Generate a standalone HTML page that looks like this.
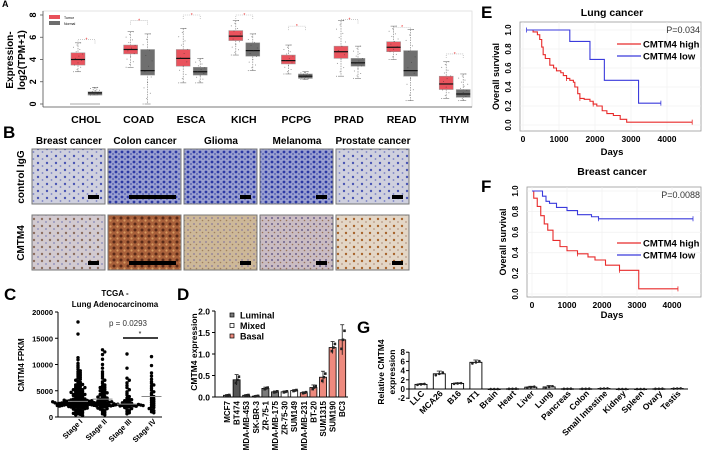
<!DOCTYPE html>
<html><head><meta charset="utf-8"><style>
html,body{margin:0;padding:0;background:#fff;width:705px;height:460px;overflow:hidden}
svg{display:block;font-family:"Liberation Sans",Arial,sans-serif}
.b{font-weight:bold}
</style></head><body>
<svg id="fig" width="705" height="460" viewBox="0 0 705 460" xmlns="http://www.w3.org/2000/svg">
<defs>
<pattern id="pBlue" width="9" height="7" patternUnits="userSpaceOnUse"><rect width="9" height="7" fill="#cfd0de"/><circle cx="2" cy="2" r="1.2" fill="#4a56b4"/><circle cx="6.5" cy="5" r="0.9" fill="#7880c4"/></pattern>
<pattern id="pBlueD" width="6" height="5" patternUnits="userSpaceOnUse"><rect width="6" height="5" fill="#9aa0d0"/><circle cx="2" cy="2" r="1.4" fill="#2c39a4"/><circle cx="5" cy="4" r="0.9" fill="#4450b0"/></pattern>
<pattern id="pBr" width="8" height="7" patternUnits="userSpaceOnUse"><rect width="8" height="7" fill="#d2cad0"/><circle cx="2" cy="2" r="1.2" fill="#8c6e60"/><circle cx="6" cy="5" r="0.9" fill="#8486b8"/></pattern>
<pattern id="pCol" width="7" height="6" patternUnits="userSpaceOnUse"><rect width="7" height="6" fill="#a8603a"/><circle cx="2" cy="2" r="1.5" fill="#5a2a18"/><circle cx="5.5" cy="4.5" r="1.1" fill="#d79a60"/></pattern>
<pattern id="pGli" width="6" height="6" patternUnits="userSpaceOnUse"><rect width="6" height="6" fill="#cdb898"/><circle cx="2" cy="2" r="0.9" fill="#8a7a9a"/><circle cx="4.5" cy="4.5" r="0.8" fill="#a08060"/></pattern>
<pattern id="pMel" width="6" height="6" patternUnits="userSpaceOnUse"><rect width="6" height="6" fill="#cabcc2"/><circle cx="2" cy="2" r="1" fill="#6c5f8c"/><circle cx="4.5" cy="4.5" r="0.8" fill="#97735c"/></pattern>
<pattern id="pPro" width="8" height="7" patternUnits="userSpaceOnUse"><rect width="8" height="7" fill="#e3d6c6"/><circle cx="2" cy="2" r="1.2" fill="#a8642c"/><circle cx="6" cy="5" r="0.9" fill="#b99884"/></pattern>
</defs>

<text x="2" y="7" class="b" font-size="9">A</text>
<text x="3" y="138" class="b" font-size="17">B</text>
<text x="4" y="300" class="b" font-size="17">C</text>
<text x="177" y="300" class="b" font-size="17">D</text>
<text x="357" y="333" class="b" font-size="17">G</text>
<text x="481" y="18" class="b" font-size="17">E</text>
<text x="481" y="192" class="b" font-size="17">F</text>

<g id="panelA"></g>
<g id="panelB"></g>
<g id="panelC"></g>
<g id="panelD"></g>
<g id="panelG"></g>
<g id="panelE"></g>
<g id="panelF"></g>
</svg>
<script>
const aCats=["CHOL","COAD","ESCA","KICH","PCPG","PRAD","READ","THYM"];
const aTumorQ1=[3.5,4.5,3.4,5.7,3.6,4.1,4.7,1.3];
const aTumorMed=[4.0,4.9,4.1,6.1,3.9,4.7,5.1,1.8];
const aTumorQ3=[4.6,5.3,4.9,6.6,4.4,5.2,5.6,2.5];
const aTumorLo=[2.9,3.3,1.9,4.4,2.7,2.5,4.0,0.5];
const aTumorHi=[5.5,6.5,6.8,7.5,5.3,7.5,7.0,3.8];
const aNormQ1=[0.8,2.6,2.6,4.3,2.3,3.4,2.5,0.6];
const aNormMed=[1.0,3.0,2.9,4.8,2.5,3.7,3.0,0.9];
const aNormQ3=[1.1,4.9,3.3,5.5,2.7,4.1,4.8,1.3];
const aNormLo=[0.8,0.0,1.9,3.0,2.2,2.3,0.3,0.3];
const aNormHi=[1.5,6.3,4.1,6.3,2.9,5.2,6.7,2.7];
const aSig=[5.8,7.5,8.0,8.0,7.0,7.6,6.9,4.5];
const aTicks=[0,2,4,6,8];

const cCats=["Stage I","Stage II","Stage III","Stage IV"];
const cStage1=[18100,15800,11300,10900,10200,9800,9500,9100,8800,8600,8400,8200,8000,7800,7600,7400,7200,7000,6800,6600,6500,6300,6100,6000,5800,5700,5500,5400,5300,5200,5100,5000,4900,4800,4700,4600,4500,4400,4300,4200,4100,4000,3900,3800,3700,3600,3500,3400,3300,3200,3100,3000,2950,2900,2850,2800,2750,2700,2650,2600,2550,2500,2450,2400,2350,2300,2250,2200,2150,2100,2050,2000,1950,1900,1800,1700,1600,1500,1400,1300,1200,1100,1000,900,800,700,600,500,400,300,3450,3350,3250,3150,3050,2980,2920,2880,2820,2780,2720,2680,2620,2580,2520,2480,2420,2380,2320,2280,2220,2180,2120,2080,2600,2700,2500,2400,3000,2900,3100,3200,4100,4300,4700,5200,5600,6200,1900,1700,1500,2000,2200];
const cStage2=[12800,12400,11900,11000,10000,9300,8600,8200,7800,7400,7000,6700,6400,6100,5900,5700,5500,5300,5100,4900,4700,4500,4300,4100,3900,3700,3500,3300,3100,3000,2900,2800,2700,2600,2500,2400,2300,2200,2100,2000,1900,1800,1600,1400,1200,1000,800,600,400,3400,3200,3000,2800,2600,2400,2200,3600,3800,4200,4600,5000,5600,2900,2700,2500,2300,1700,1500];
const cStage3=[12000,9300,7400,7000,6500,6000,5600,5200,4800,4500,4200,3900,3600,3400,3200,3000,2800,2600,2500,2400,2350,2300,2250,2200,2150,2100,2050,2000,1900,1800,1600,1400,1200,1000,800,600,2450,2380,2320,2280,2220,2180,2120,2600,2700,3100,3300];
const cStage4=[11500,9800,8400,7800,7200,6700,6400,6100,5900,5500,5100,4800,4500,4200,3900,3600,3400,3200,3000,2800,2600,2400,2200,2000,1800,1600,1400,1200,1000,800];
const cTicks=[0,5000,10000,15000,20000];

const dCats=["MCF7","BT474","MDA-MB-453","SK-BR-3","ZR-75-1","MDA-MB-175","ZR-75-30","SUM149","MDA-MB-231","BT-20","SUM1315","SUM190","BC3"];
const dVals=[0.04,0.40,0.04,0.02,0.20,0.12,0.12,0.15,0.10,0.22,0.46,1.15,1.33];
const dErr=[0.01,0.12,0.01,0.01,0.03,0.02,0.02,0.02,0.02,0.06,0.14,0.14,0.35];
const dType=["L","L","L","L","L","L","M","M","B","B","B","B","B"];
const dTicks=[0,0.5,1.0,1.5,2.0];

const gCats=["LLC","MCA26","B16","4T1","Brain","Heart","Liver","Lung","Pancreas","Colon","Small Intestine","Kidney","Spleen","Ovary","Testis"];
const gVals=[1.0,3.3,1.2,5.8,0.0,0.05,0.4,0.45,0.05,0.05,0.1,0.0,0.0,0.05,0.1];
const gErr=[0.2,0.6,0.15,0.5,0,0.02,0.2,0.3,0.02,0.02,0.05,0,0,0.02,0.05];
const gTicks=[-2,0,2,4,6,8];

const eHighT=[140,280,400,465,520,560,620,745,850,930,1050,1120,1210,1300,1400,1440,1520,1580,1700,1860,1950,2050,2200,2330,2510,2700,2880,4700];
const eHighS=[1.0,0.98,0.95,0.9,0.82,0.74,0.7,0.63,0.6,0.57,0.55,0.52,0.49,0.47,0.45,0.4,0.33,0.28,0.27,0.25,0.22,0.2,0.15,0.12,0.1,0.06,0.03,0.03];
const eLowT=[100,1300,1860,2260,3210,3830];
const eLowS=[1.0,0.88,0.69,0.47,0.23,0.23];
const eTicks=[0,1000,2000,3000,4000];
const survTicks=[0,0.2,0.4,0.6,0.8,1.0];

const fHighT=[0,50,150,250,350,450,600,800,1000,1300,1600,1800,2100,2500,3000,3050,4170];
const fHighS=[1.0,0.93,0.85,0.76,0.68,0.62,0.52,0.46,0.42,0.39,0.36,0.33,0.28,0.23,0.23,0.05,0.05];
const fLowT=[0,300,400,500,700,1000,1300,1500,1700,1900,4600];
const fLowS=[1.0,0.95,0.9,0.88,0.84,0.81,0.77,0.77,0.75,0.73,0.73];
const fTicks=[0,1000,2000,3000,4000];

const NS="http://www.w3.org/2000/svg";
function mk(parent,tag,attrs,txt){const e=document.createElementNS(NS,tag);for(const k in attrs)e.setAttribute(k,attrs[k]);if(txt!==undefined)e.textContent=txt;parent.appendChild(e);return e;}

(function(){
const g=document.getElementById('panelA');
const y=v=>104-v*11.125;
const cx=i=>86+i*52.6;
let fr=mk(g,'rect',{x:43,y:11,width:429,height:96,fill:'none',stroke:'#ddd','stroke-width':0.8});


mk(g,'line',{x1:43,y1:11,x2:43,y2:107,stroke:'#555','stroke-width':0.8});
mk(g,'line',{x1:43,y1:107,x2:472,y2:107,stroke:'#555','stroke-width':0.8});
aTicks.forEach(t=>{
  mk(g,'line',{x1:40,x2:43,y1:y(t),y2:y(t),stroke:'#555','stroke-width':0.8});
  let tx=mk(g,'text',{x:0,y:0,'font-size':9,'text-anchor':'middle',transform:`translate(36 ${y(t)}) rotate(-90)`,class:'b'},String(t));
  
  
});
let yl=mk(g,'text',{x:0,y:0,'font-size':10,'text-anchor':'middle',class:'b',transform:'translate(13 60) rotate(-90)'},'Expression-');


mk(g,'text',{x:0,y:0,'font-size':10,'text-anchor':'middle',class:'b',transform:'translate(25 60) rotate(-90)'},'log2(TPM+1)');
let l1=mk(g,'rect',{x:49,y:15,width:11,height:4,fill:'#e8505a'});


mk(g,'text',{x:64,y:19,'font-size':3.5},'Tumor');
let l2=mk(g,'rect',{x:49,y:21,width:11,height:4,fill:'#6d6d6d'});


mk(g,'text',{x:64,y:25,'font-size':3.5},'Normal');
aCats.forEach((c,i)=>{
  const xt=cx(i)-8, xn=cx(i)+9;
  function box(x,q1,md,q3,lo,hi,col,nm){
    mk(g,'line',{x1:x,x2:x,y1:y(hi),y2:y(lo),stroke:'#777','stroke-width':0.6,'stroke-dasharray':'1.5 1'});
    mk(g,'line',{x1:x-3,x2:x+3,y1:y(hi),y2:y(hi),stroke:'#777','stroke-width':0.6});
    mk(g,'line',{x1:x-3,x2:x+3,y1:y(lo),y2:y(lo),stroke:'#777','stroke-width':0.6});
    let r=mk(g,'rect',{x:x-7,y:y(q3),width:14,height:Math.max(1,y(q1)-y(q3)),fill:col,stroke:'#999','stroke-width':0.5});
    
    
    mk(g,'line',{x1:x-7,x2:x+7,y1:y(md),y2:y(md),stroke:'#111','stroke-width':1.2});
    for(let k=0;k<14;k++){const fr2=k/13;const v=lo+(hi-lo)*fr2;const dx=((k*37)%11-5)*0.9;
      mk(g,'circle',{cx:x+dx,cy:y(v),r:0.5,fill:'#333',opacity:0.6});}
  }
  box(xt,aTumorQ1[i],aTumorMed[i],aTumorQ3[i],aTumorLo[i],aTumorHi[i],'#e9535d','box-tumor-'+c.toLowerCase());
  box(xn,aNormQ1[i],aNormMed[i],aNormQ3[i],aNormLo[i],aNormHi[i],'#6f6f6f','box-normal-'+c.toLowerCase());
  const sy=y(aSig[i]);
  mk(g,'path',{d:`M${xt} ${sy+4}V${sy}H${xn}V${sy+4}`,fill:'none',stroke:'#aaa','stroke-width':0.6,'stroke-dasharray':'1 1'});
  mk(g,'text',{x:(xt+xn)/2,y:sy+2,'font-size':5,fill:'#e33','text-anchor':'middle'},'*');
  let lb=mk(g,'text',{x:cx(i),y:123,'font-size':10.5,'text-anchor':'middle',class:'b'},c);
  
  
});
mk(g,'line',{x1:70,x2:100,y1:y(0),y2:y(0),stroke:'#aaa','stroke-width':1});
})();

(function(){
const g=document.getElementById('panelB');
const heads=["Breast cancer","Colon cancer","Glioma","Melanoma","Prostate cancer"];
const xs=[32,108,184,260,336];
const r1=["url(#pBlue)","url(#pBlueD)","url(#pBlueD)","url(#pBlueD)","url(#pBlue)"];
const r2=["url(#pBr)","url(#pCol)","url(#pGli)","url(#pMel)","url(#pPro)"];
heads.forEach((h,i)=>{
  let t=mk(g,'text',{x:xs[i]+37,y:144,'font-size':10,'text-anchor':'middle',class:'b'},h);
  
  
  [[149,r1[i]],[215,r2[i]]].forEach(([yy,f],j)=>{
    let r=mk(g,'rect',{x:xs[i],y:yy,width:73,height:55,fill:f,stroke:'#777','stroke-width':1});
    
    
    const wide=i===1;
    const bw=wide?47:11;const bx=wide?xs[i]+21:xs[i]+56;
    mk(g,'rect',{x:bx,y:yy+46,width:bw,height:4,fill:'#000'});
  });
});
let a=mk(g,'text',{x:0,y:0,'font-size':10,'text-anchor':'middle',class:'b',transform:'translate(24 177) rotate(-90)'},'control IgG');


let b=mk(g,'text',{x:0,y:0,'font-size':10,'text-anchor':'middle',class:'b',transform:'translate(24 243) rotate(-90)'},'CMTM4');


})();

(function(){
const g=document.getElementById('panelC');
const y=v=>417-v*0.00525;
const cx=i=>78+i*24.5;
mk(g,'text',{x:115,y:296,'font-size':8,'text-anchor':'middle',class:'b'},'TCGA -');
mk(g,'text',{x:115,y:307,'font-size':8,'text-anchor':'middle',class:'b'},'Lung Adenocarcinoma');
mk(g,'line',{x1:58,x2:58,y1:312,y2:417,stroke:'#000','stroke-width':1});
mk(g,'line',{x1:58,x2:162,y1:417,y2:417,stroke:'#000','stroke-width':1});
cTicks.forEach(t=>{mk(g,'line',{x1:55,x2:58,y1:y(t),y2:y(t),stroke:'#000'});
  let tx=mk(g,'text',{x:53,y:y(t)+3,'font-size':7.5,'text-anchor':'end',class:'b'},String(t));
  
  });
let yl=mk(g,'text',{x:0,y:0,'font-size':8,'text-anchor':'middle',class:'b',transform:'translate(24 365) rotate(-90)'},'CMTM4 FPKM');


[cStage1,cStage2,cStage3,cStage4].forEach((arr,i)=>{
  const bins={};
  arr.forEach(v=>{const b=Math.round(v/450);const k=bins[b]||0;bins[b]=k+1;
    const off=((k+1)>>1)*(k%2?1:-1)*2.3;
    let c=mk(g,'circle',{cx:cx(i)+off,cy:y(v),r:1.7,fill:'#000'});
    
    });
  const s=[...arr].sort((a,b)=>a-b);const med=s[Math.floor(s.length/2)];
  mk(g,'line',{x1:cx(i)-10,x2:cx(i)+10,y1:y(med),y2:y(med),stroke:'#888','stroke-width':1});
  let lb=mk(g,'text',{x:0,y:0,'font-size':7.5,'text-anchor':'end',class:'b',transform:`translate(${cx(i)+5} 422) rotate(-45)`},cCats[i]);
  
  
});
mk(g,'text',{x:128,y:326,'font-size':8,'text-anchor':'middle',fill:'#333'},'p = 0.0293');
mk(g,'text',{x:140,y:336,'font-size':7,'text-anchor':'middle'},'*');
mk(g,'line',{x1:123,x2:158,y1:338,y2:338,stroke:'#000','stroke-width':1.5});
})();

(function(){
const g=document.getElementById('panelD');
const y=v=>397-v*43;
const cx=i=>227+i*9.6;
const col={L:'#7a7a7a',M:'#ffffff',B:'#ee8a7e'};
mk(g,'line',{x1:215,x2:215,y1:311,y2:397,stroke:'#000','stroke-width':1});
mk(g,'line',{x1:215,x2:348,y1:397,y2:397,stroke:'#000','stroke-width':1});
dTicks.forEach(t=>{mk(g,'line',{x1:212,x2:215,y1:y(t),y2:y(t),stroke:'#000'});
  let tx=mk(g,'text',{x:210,y:y(t)+3.5,'font-size':8.5,'text-anchor':'end',class:'b'},t.toFixed(1));
  
  });
let yl=mk(g,'text',{x:0,y:0,'font-size':8.5,'text-anchor':'middle',class:'b',transform:'translate(197 352) rotate(-90)'},'CMTM4 expression');


dCats.forEach((c,i)=>{
  const v=dVals[i];
  let r=mk(g,'rect',{x:cx(i)-3.5,y:y(v),width:7,height:397-y(v),fill:dType[i]==='L'&&i===1?'#555':col[dType[i]],stroke:'#000','stroke-width':0.8});
  
  
  mk(g,'line',{x1:cx(i),x2:cx(i),y1:y(v+dErr[i]),y2:y(Math.max(0,v-dErr[i])),stroke:'#000','stroke-width':0.7});
  mk(g,'line',{x1:cx(i)-2,x2:cx(i)+2,y1:y(v+dErr[i]),y2:y(v+dErr[i]),stroke:'#000','stroke-width':0.7});
  [-0.6,0,0.6].forEach((f,k)=>mk(g,'rect',{x:cx(i)-2+k*1.5,y:y(v+f*dErr[i])-1.3,width:2.6,height:2.6,fill:'#222'}));
  let lb=mk(g,'text',{x:0,y:0,'font-size':8,'text-anchor':'end',class:'b',transform:`translate(${cx(i)+3} 401) rotate(-90)`},c);
  
  
});
[["Luminal",'#7a7a7a'],["Mixed",'#fff'],["Basal",'#ee8a7e']].forEach(([n,c],k)=>{
  let r=mk(g,'rect',{x:230,y:313+k*10.5,width:4,height:4,fill:c,stroke:'#000','stroke-width':0.7});
  
  
  mk(g,'text',{x:240,y:318.5+k*10.5,'font-size':9,class:'b'},n);
});
})();

(function(){
const g=document.getElementById('panelG');
const y=v=>389-v*4.6;
const cx=i=>421+i*18.3;
mk(g,'line',{x1:409,x2:409,y1:352,y2:399,stroke:'#000','stroke-width':1});
mk(g,'line',{x1:409,x2:688,y1:389,y2:389,stroke:'#000','stroke-width':1});
gTicks.forEach(t=>{mk(g,'line',{x1:406,x2:409,y1:y(t),y2:y(t),stroke:'#000'});
  let tx=mk(g,'text',{x:405,y:y(t)+3,'font-size':8,'text-anchor':'end',class:'b'},String(t));
  
  });
let yl=mk(g,'text',{x:0,y:0,'font-size':8.5,'text-anchor':'middle',class:'b',transform:'translate(384 372) rotate(-90)'},'Relative CMTM4');


mk(g,'text',{x:0,y:0,'font-size':8.5,'text-anchor':'middle',class:'b',transform:'translate(395 372) rotate(-90)'},'expression');
gCats.forEach((c,i)=>{
  const v=gVals[i];
  let r=mk(g,'rect',{x:cx(i)-6,y:y(v),width:12,height:Math.max(0.5,389-y(v)),fill:'#fff',stroke:'#000','stroke-width':0.9});
  
  
  if(gErr[i]>0){mk(g,'line',{x1:cx(i),x2:cx(i),y1:y(v+gErr[i]),y2:y(v),stroke:'#000','stroke-width':0.7});
    mk(g,'line',{x1:cx(i)-2.5,x2:cx(i)+2.5,y1:y(v+gErr[i]),y2:y(v+gErr[i]),stroke:'#000','stroke-width':0.7});}
  [-3.5,0,3.5].forEach((dx,k)=>mk(g,'circle',{cx:cx(i)+dx,cy:y(v+(k-1)*gErr[i]*0.5),r:1.3,fill:'#222'}));
  let lb=mk(g,'text',{x:0,y:0,'font-size':8.5,'text-anchor':'end',class:'b',transform:`translate(${cx(i)+4} 394) rotate(-45)`},c);
  
  
});
})();

function km(gid,title,titleY,fx0,fx1,fy0,fy1,x,y,ticks,series,p,legY,daysY,showDays){
  const g=document.getElementById(gid);
  let t=mk(g,'text',{x:612,y:titleY,'font-size':10.5,'text-anchor':'middle',class:'b'},title);
  
  
  mk(g,'rect',{x:fx0,y:fy0,width:fx1-fx0,height:fy1-fy0,fill:'#fff',stroke:'#999','stroke-width':0.8});
  ticks.forEach(d=>mk(g,'line',{x1:x(d),x2:x(d),y1:fy0,y2:fy1,stroke:'#eee','stroke-width':0.6}));
  survTicks.forEach(s=>{mk(g,'line',{x1:fx0,x2:fx1,y1:y(s),y2:y(s),stroke:'#eee','stroke-width':0.6});
    let tx=mk(g,'text',{x:0,y:0,'font-size':8,'text-anchor':'middle',class:'b',transform:`translate(${fx0-9} ${y(s)}) rotate(-90)`},s.toFixed(1));
    
    });
  ticks.forEach(d=>{let tx=mk(g,'text',{x:x(d),y:fy1+11,'font-size':8.5,'text-anchor':'middle',class:'b'},String(d));
    
    });
  let yl=mk(g,'text',{x:0,y:0,'font-size':9,'text-anchor':'middle',class:'b',transform:`translate(${fx0-21} ${(fy0+fy1)/2}) rotate(-90)`},'Overall survival');
  
  
  if(showDays){let dl=mk(g,'text',{x:612,y:daysY,'font-size':9.5,'text-anchor':'middle',class:'b'},'Days');
    
    }
  series.forEach(s=>{
    let d=`M${x(s.T[0])} ${y(s.S[0])}`;
    for(let i=1;i<s.T.length;i++){d+=`H${x(s.T[i])}V${y(s.S[i])}`;}
    let pth=mk(g,'path',{d:d,fill:'none',stroke:s.c,'stroke-width':1.1});
    
    
    s.cens.forEach(ci=>{const xx=x(s.T[ci]),yy=y(s.S[ci]);mk(g,'line',{x1:xx,x2:xx,y1:yy-2.5,y2:yy+2.5,stroke:s.c,'stroke-width':0.8});});
  });
  mk(g,'text',{x:fx1-1,y:fy0+11,'font-size':9,'text-anchor':'end',fill:'#333'},p);
  [['CMTM4 high','#e82a2a'],['CMTM4 low','#3a3adc']].forEach(([n,c],k)=>{
    let l=mk(g,'line',{x1:617,x2:641,y1:legY+k*12,y2:legY+k*12,stroke:c,'stroke-width':1.2});
    
    
    mk(g,'text',{x:643,y:legY+k*12+3.5,'font-size':9.5,class:'b'},n);
  });
}
km('panelE','Lung cancer',16,520,701,22,131,d=>523+d*0.036,s=>125-s*95,eTicks,
  [{T:eHighT,S:eHighS,c:'#e82a2a',n:'curve-cmtm4-high',cens:[12,17,20,27]},{T:eLowT,S:eLowS,c:'#3a3adc',n:'curve-cmtm4-low',cens:[0,5]}],
  'P=0.034',44,155,true);
km('panelF','Breast cancer',175,527,701,187,297,d=>532+d*0.035,s=>294-s*103,fTicks,
  [{T:fHighT,S:fHighS,c:'#e82a2a',n:'curve-cmtm4-high',cens:[9,13,16]},{T:fLowT,S:fLowS,c:'#3a3adc',n:'curve-cmtm4-low',cens:[9,10]}],
  'P=0.0088',243,318,true);
</script>
</body></html>
